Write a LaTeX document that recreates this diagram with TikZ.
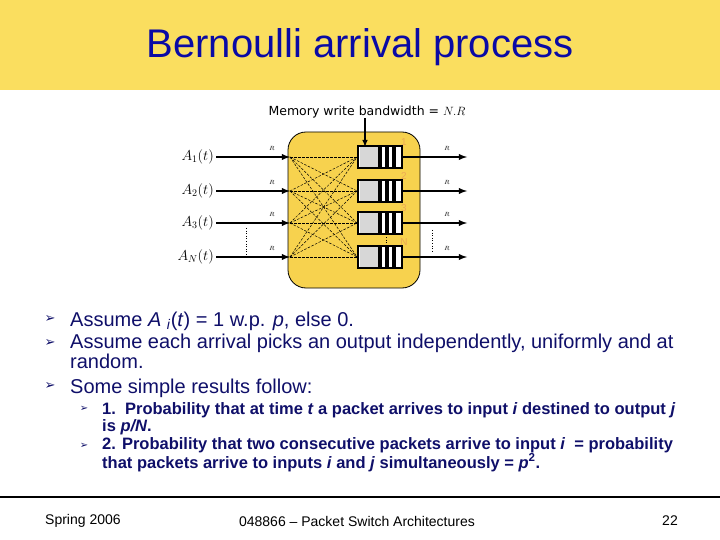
\documentclass[tikz,border=0pt]{standalone}
\usepackage{fontspec}
\setmainfont{Liberation Sans}
\newfontfamily\dejavu{DejaVu Sans}

\definecolor{titleyellow}{RGB}{250,222,95}
\definecolor{boxyellow}{RGB}{247,210,78}
\definecolor{titleblue}{RGB}{10,10,165}
\definecolor{navy}{RGB}{15,15,105}
\definecolor{qgray}{RGB}{215,215,215}
\definecolor{qorange}{RGB}{235,170,85}

\begin{document}
\begin{tikzpicture}[x=1pt,y=-1pt,>=latex,
	every node/.style={inner sep=0pt},
	lab/.style={font=\fontsize{14}{16}\selectfont,anchor=east,inner sep=2pt},
	rlab/.style={font=\fontsize{6}{6}\selectfont},
	qnum/.style={font=\fontsize{10}{10}\selectfont,text=qorange},
	queue/.style={draw,line width=1.8pt,fill=white,minimum width=44pt,minimum height=22pt},
	inarrow/.style={->,line width=1.8pt},
	xline/.style={dash pattern=on 2.5pt off 1.5pt,line width=0.5pt},
	bullet/.style={font=\dejavu\fontsize{13}{13}\selectfont,text=navy},
	body/.style={text=navy,align=left,anchor=base west},
	foot/.style={font=\fontsize{14}{14}\selectfont}]
		\useasboundingbox (0,0) rectangle (720,540);
		\fill[titleyellow] (0,0) rectangle (720,90);
		\node[font=\fontsize{40}{40}\selectfont,text=titleblue] (title) at (360,47) {Bernoulli arrival process};
		% shared memory switch
		\node[draw,line width=0.8pt,fill=boxyellow,rounded corners=18pt,minimum width=132pt,minimum height=156pt] (switch) at (354,210) {};
		\node[font=\dejavu\fontsize{12.5}{12.5}\selectfont] (mem) at (367,112) {Memory write bandwidth = $N.R$};
		\foreach \i/\y/\lab in {1/157/1,2/191/2,3/223/3,4/257/N}{
			\node[lab] (a\i) at (216,\y) {$A_{\lab}(t)$};
			\coordinate (in\i) at (290,\y);
			\coordinate (out\i) at (467,\y);
			\node[queue] (q\i) at (380,\y) {};
			\fill[qgray] (359.5,\y-10) rectangle (378,\y+10);
			\foreach \b in {378,385,392} \fill (\b,\y-10) rectangle (\b+3.5,\y+10);
			\node[qnum] (n\i) at (404,\y-15) {\lab};
			\node[rlab] (ri\i) at (272,\y-9) {$R$};
			\node[rlab] (ro\i) at (447,\y-9) {$R$};
		}
		\foreach \i in {1,...,4}{
			\foreach \j in {1,...,4}
				\draw[xline] (in\i) -- (q\j.west);
			\draw[inarrow] (a\i) -- (in\i);
			\draw[inarrow] (q\i) -- (out\i);
		}
		\coordinate (memtip) at (365,147);
		\draw[->,line width=1.4pt] (mem.south -| memtip) -- (memtip);
		\draw[dotted,line width=0.6pt] (246,228) -- (246,255);
		\draw[dotted,line width=0.6pt] (432,230) -- (432,253);
		\draw[dotted,line width=0.6pt] (386,237) -- (386,244);
		% bullets
		\node[bullet] (m1) at (50,319) {➢};
		\node[bullet] (m2) at (50,343) {➢};
		\node[bullet] (m3) at (50,386) {➢};
		\node[body,font=\fontsize{20}{19}\selectfont] (b1) at (70,326) {Assume \textit{A} \textsubscript{\textit{i}}(\textit{t}) = 1 w.p. \textit{p}, else 0.};
		\node[body,font=\fontsize{20}{18.5}\selectfont] (b2) at (70,368.5) {Assume each arrival picks an output independently, uniformly and at\\random.};
		\node[body,font=\fontsize{20}{19}\selectfont] (b3) at (70,393) {Some simple results follow:};
		\node[bullet,font=\dejavu\fontsize{10}{10}\selectfont] (m4) at (84,409) {➢};
		\node[bullet,font=\dejavu\fontsize{10}{10}\selectfont] (m5) at (84,446) {➢};
		\node[body,font=\bfseries\fontsize{16.5}{17}\selectfont] (s1) at (102,431) {1.\ \ Probability that at time \textit{t} a packet arrives to input \textit{i} destined to output \textit{j}\\is \textit{p/N}.};
		\node[body,font=\bfseries\fontsize{16.5}{17}\selectfont] (s2) at (102,468) {2. Probability that two consecutive packets arrive to input \textit{i}\ \ = probability\\that packets arrive to inputs \textit{i} and \textit{j} simultaneously = \textit{p}\textsuperscript{2}.};
		% footer
		\draw[line width=1.2pt] (0,497) -- (720,497);
		\node[foot,anchor=west] (season) at (45,521) {Spring 2006};
		\node[foot] (course) at (357,521) {048866 -- Packet Switch Architectures};
		\node[foot] (page) at (670,521) {22};
\end{tikzpicture}
\end{document}
